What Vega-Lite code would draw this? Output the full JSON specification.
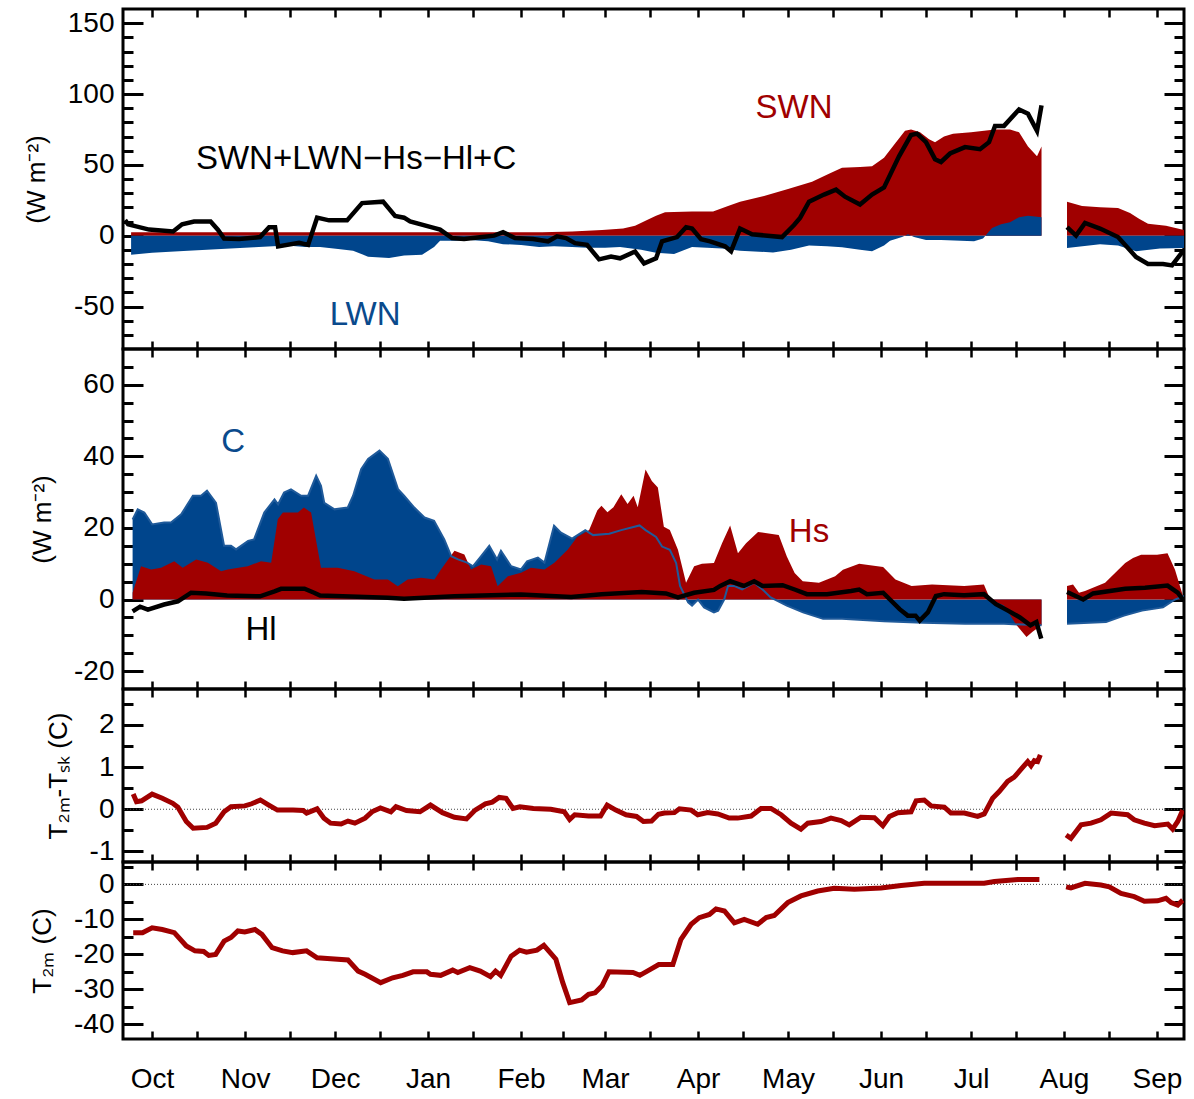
{
"$schema": "https://vega.github.io/schema/vega-lite/v6.json",
"padding": {"left": 21, "top": 6, "right": 12, "bottom": 4},
"spacing": 0,
"bounds": "flush",
"config": {
  "view": {"stroke": "black", "strokeWidth": 3},
  "axis": {"domain": false, "grid": false, "labelFont": "Liberation Sans", "titleFont": "Liberation Sans", "labelColor": "black", "titleColor": "black", "tickColor": "black", "labelFontSize": 28, "titleFontSize": 26, "titleFontWeight": "normal", "labelFlush": false, "labelOverlap": false, "labelBound": false},
  "text": {"font": "Liberation Sans"}
},
"datasets": {
  "swn": [
    {"g":1,"d":-7,"v":2.5},{"g":1,"d":130,"v":2.5},{"g":1,"d":140,"v":3},{"g":1,"d":150,"v":4},{"g":1,"d":157,"v":5},{"g":1,"d":161,"v":7},{"g":1,"d":165,"v":11},{"g":1,"d":168,"v":14},{"g":1,"d":171,"v":16.5},{"g":1,"d":180,"v":17},{"g":1,"d":187,"v":17},{"g":1,"d":192,"v":21},{"g":1,"d":196,"v":24},{"g":1,"d":204,"v":28},{"g":1,"d":212,"v":33},{"g":1,"d":220,"v":38},{"g":1,"d":226,"v":44},{"g":1,"d":230,"v":48},{"g":1,"d":236,"v":48.5},{"g":1,"d":240,"v":49},{"g":1,"d":244,"v":55},{"g":1,"d":248,"v":66},{"g":1,"d":251,"v":74},{"g":1,"d":253,"v":75},{"g":1,"d":256,"v":73},{"g":1,"d":259,"v":68},{"g":1,"d":261,"v":66},{"g":1,"d":264,"v":70},{"g":1,"d":267,"v":72},{"g":1,"d":273,"v":73},{"g":1,"d":281,"v":75},{"g":1,"d":286,"v":75},{"g":1,"d":289,"v":73},{"g":1,"d":292,"v":63},{"g":1,"d":295,"v":56},{"g":1,"d":296.5,"v":63},
    {"g":2,"d":305,"v":24},{"g":2,"d":310,"v":21},{"g":2,"d":316,"v":20},{"g":2,"d":322,"v":19.5},{"g":2,"d":326,"v":16},{"g":2,"d":329,"v":12},{"g":2,"d":332,"v":8.5},{"g":2,"d":338,"v":7},{"g":2,"d":344,"v":4}
  ],
  "lwn": [
    {"g":1,"d":-7,"v":-13.4},{"g":1,"d":0,"v":-12},{"g":1,"d":12,"v":-10.6},{"g":1,"d":23,"v":-9.4},{"g":1,"d":34,"v":-8.2},{"g":1,"d":45,"v":-7},{"g":1,"d":51,"v":-8},{"g":1,"d":56,"v":-8},{"g":1,"d":62,"v":-9.4},{"g":1,"d":67,"v":-10.6},{"g":1,"d":72,"v":-14.8},{"g":1,"d":79,"v":-15.8},{"g":1,"d":84,"v":-14},{"g":1,"d":90,"v":-13.4},{"g":1,"d":94,"v":-8},{"g":1,"d":96,"v":-3.5},{"g":1,"d":101,"v":-3.5},{"g":1,"d":106,"v":-3},{"g":1,"d":112,"v":-4},{"g":1,"d":117,"v":-6},{"g":1,"d":123,"v":-6.5},{"g":1,"d":129,"v":-8},{"g":1,"d":134,"v":-7.5},{"g":1,"d":140,"v":-8},{"g":1,"d":145,"v":-8.5},{"g":1,"d":151,"v":-8.5},{"g":1,"d":156,"v":-8},{"g":1,"d":163,"v":-10},{"g":1,"d":168,"v":-12},{"g":1,"d":174,"v":-13},{"g":1,"d":180,"v":-8},{"g":1,"d":190,"v":-9},{"g":1,"d":196,"v":-10.6},{"g":1,"d":207,"v":-11.8},{"g":1,"d":213,"v":-10},{"g":1,"d":219,"v":-7},{"g":1,"d":225,"v":-7.5},{"g":1,"d":230,"v":-8.2},{"g":1,"d":236,"v":-10},{"g":1,"d":240,"v":-11},{"g":1,"d":244,"v":-7},{"g":1,"d":246,"v":-3.5},{"g":1,"d":250,"v":-1},{"g":1,"d":252,"v":1},{"g":1,"d":254,"v":-1},{"g":1,"d":258,"v":-3},{"g":1,"d":263,"v":-3},{"g":1,"d":274,"v":-4},{"g":1,"d":277,"v":-2},{"g":1,"d":280,"v":5.5},{"g":1,"d":283,"v":8},{"g":1,"d":286,"v":9.5},{"g":1,"d":289,"v":13},{"g":1,"d":292,"v":14},{"g":1,"d":296.5,"v":13},
    {"g":2,"d":305,"v":-8.7},{"g":2,"d":316,"v":-6},{"g":2,"d":322,"v":-7},{"g":2,"d":328,"v":-11},{"g":2,"d":336,"v":-9},{"g":2,"d":344,"v":-8.7}
  ],
  "net": [
    {"g":1,"d":-9,"v":11},{"g":1,"d":-8,"v":8},{"g":1,"d":-1,"v":4.3},{"g":1,"d":7,"v":3},{"g":1,"d":10,"v":8},{"g":1,"d":14,"v":10},{"g":1,"d":19.5,"v":10},{"g":1,"d":22,"v":4},{"g":1,"d":24,"v":-2},{"g":1,"d":29,"v":-2.4},{"g":1,"d":36,"v":-1},{"g":1,"d":39,"v":6},{"g":1,"d":41,"v":6},{"g":1,"d":42,"v":-7.6},{"g":1,"d":49,"v":-5},{"g":1,"d":52,"v":-6.5},{"g":1,"d":55,"v":12.7},{"g":1,"d":59,"v":10.8},{"g":1,"d":65,"v":10.8},{"g":1,"d":70,"v":23},{"g":1,"d":77,"v":24},{"g":1,"d":81,"v":14},{"g":1,"d":84,"v":12.7},{"g":1,"d":86,"v":10},{"g":1,"d":93,"v":6},{"g":1,"d":96,"v":4.3},{"g":1,"d":100,"v":-1.7},{"g":1,"d":104,"v":-2.4},{"g":1,"d":110,"v":-1},{"g":1,"d":114,"v":0},{"g":1,"d":117,"v":2.4},{"g":1,"d":121,"v":-1.7},{"g":1,"d":127,"v":-2.4},{"g":1,"d":132,"v":-4},{"g":1,"d":135,"v":-0.5},{"g":1,"d":138,"v":-1.7},{"g":1,"d":141,"v":-5.3},{"g":1,"d":145,"v":-6.5},{"g":1,"d":149,"v":-16.7},{"g":1,"d":153,"v":-14.8},{"g":1,"d":156,"v":-16},{"g":1,"d":161,"v":-11.2},{"g":1,"d":164,"v":-19.6},{"g":1,"d":168,"v":-16},{"g":1,"d":170,"v":-4},{"g":1,"d":175,"v":-1},{"g":1,"d":178,"v":6},{"g":1,"d":180,"v":5},{"g":1,"d":183,"v":-2.5},{"g":1,"d":186,"v":-4},{"g":1,"d":191,"v":-7.5},{"g":1,"d":193,"v":-11},{"g":1,"d":196,"v":5},{"g":1,"d":200,"v":1},{"g":1,"d":210,"v":-1},{"g":1,"d":214,"v":7.5},{"g":1,"d":216,"v":12.5},{"g":1,"d":219,"v":24},{"g":1,"d":224,"v":29},{"g":1,"d":228,"v":32.5},{"g":1,"d":231,"v":27.5},{"g":1,"d":236,"v":22},{"g":1,"d":240,"v":29},{"g":1,"d":244,"v":34},{"g":1,"d":249,"v":56},{"g":1,"d":253,"v":71},{"g":1,"d":255,"v":72},{"g":1,"d":258,"v":66},{"g":1,"d":261,"v":54},{"g":1,"d":263,"v":52},{"g":1,"d":266,"v":58},{"g":1,"d":271,"v":62.5},{"g":1,"d":276,"v":61},{"g":1,"d":279,"v":66},{"g":1,"d":281,"v":77.5},{"g":1,"d":284,"v":77.5},{"g":1,"d":289,"v":89},{"g":1,"d":292,"v":86},{"g":1,"d":295,"v":74},{"g":1,"d":296.5,"v":92},
    {"g":2,"d":305,"v":6},{"g":2,"d":308,"v":0},{"g":2,"d":311,"v":9},{"g":2,"d":316,"v":5},{"g":2,"d":322,"v":-1},{"g":2,"d":328,"v":-15},{"g":2,"d":332,"v":-20},{"g":2,"d":337,"v":-20},{"g":2,"d":340,"v":-21},{"g":2,"d":344,"v":-10}
  ],
  "cflux": [
    {"g":1,"d":-6.5,"v":22.4},{"g":1,"d":-4.8,"v":25.2},{"g":1,"d":-2.6,"v":24.3},{"g":1,"d":0,"v":21},{"g":1,"d":4,"v":21.5},{"g":1,"d":6.3,"v":21.5},{"g":1,"d":9.7,"v":23.8},{"g":1,"d":13.6,"v":29},{"g":1,"d":16.3,"v":29},{"g":1,"d":18.3,"v":30.4},{"g":1,"d":21.3,"v":27},{"g":1,"d":24,"v":15},{"g":1,"d":26.3,"v":15},{"g":1,"d":28,"v":14},{"g":1,"d":32,"v":16.4},{"g":1,"d":34,"v":16.8},{"g":1,"d":37.4,"v":24.3},{"g":1,"d":40.8,"v":28},{"g":1,"d":42,"v":26.6},{"g":1,"d":44,"v":29.9},{"g":1,"d":46.3,"v":30.8},{"g":1,"d":49.7,"v":29},{"g":1,"d":52,"v":29},{"g":1,"d":54.7,"v":34.6},{"g":1,"d":56.3,"v":31.8},{"g":1,"d":57.4,"v":27},{"g":1,"d":60.8,"v":25.2},{"g":1,"d":65.2,"v":25.7},{"g":1,"d":67,"v":29},{"g":1,"d":69.7,"v":36.4},{"g":1,"d":72,"v":39.3},{"g":1,"d":75.8,"v":41.6},{"g":1,"d":78.6,"v":39.3},{"g":1,"d":82,"v":30.8},{"g":1,"d":84,"v":29},{"g":1,"d":87.4,"v":25.7},{"g":1,"d":90.8,"v":22.9},{"g":1,"d":94,"v":22},{"g":1,"d":97.4,"v":16.8},{"g":1,"d":99.7,"v":12.1},{"g":1,"d":102,"v":11.2},{"g":1,"d":105,"v":10.3},{"g":1,"d":107,"v":9.3},{"g":1,"d":109.7,"v":12.1},{"g":1,"d":112.4,"v":15},{"g":1,"d":115,"v":11.2},{"g":1,"d":116.3,"v":13.6},{"g":1,"d":119.7,"v":9.3},{"g":1,"d":123,"v":8.4},{"g":1,"d":125,"v":10.7},{"g":1,"d":128.6,"v":11.7},{"g":1,"d":130.8,"v":10.3},{"g":1,"d":134,"v":20.6},{"g":1,"d":136.3,"v":18.7},{"g":1,"d":140,"v":17},{"g":1,"d":144.4,"v":19.4},{"g":1,"d":147,"v":18},{"g":1,"d":152.4,"v":18.4},{"g":1,"d":156.4,"v":19.4},{"g":1,"d":162.5,"v":20.7},{"g":1,"d":164.5,"v":19.4},{"g":1,"d":168,"v":17.5},{"g":1,"d":170,"v":14.8},{"g":1,"d":172.6,"v":13.9},{"g":1,"d":174.7,"v":10.2},{"g":1,"d":176,"v":3.8},{"g":1,"d":178.7,"v":-0.8},{"g":1,"d":180,"v":-1.7},{"g":1,"d":182,"v":0},{"g":1,"d":184,"v":-2.2},{"g":1,"d":187.3,"v":-3.6},{"g":1,"d":188.7,"v":-3.1},{"g":1,"d":190.7,"v":0},{"g":1,"d":192,"v":3.8},{"g":1,"d":194,"v":3.8},{"g":1,"d":196.7,"v":2.8},{"g":1,"d":200.7,"v":4.7},{"g":1,"d":203.5,"v":2.8},{"g":1,"d":206.2,"v":0.6},{"g":1,"d":211.6,"v":-1.7},{"g":1,"d":217,"v":-3.6},{"g":1,"d":223.7,"v":-5.4},{"g":1,"d":230,"v":-5.4},{"g":1,"d":244,"v":-6.1},{"g":1,"d":257,"v":-6.5},{"g":1,"d":271,"v":-6.8},{"g":1,"d":284,"v":-6.8},{"g":1,"d":296.5,"v":-7.2},
    {"g":2,"d":305,"v":-6.8},{"g":2,"d":318,"v":-6.3},{"g":2,"d":324,"v":-4.5},{"g":2,"d":330,"v":-3.1},{"g":2,"d":337,"v":-2.2},{"g":2,"d":341,"v":0},{"g":2,"d":344,"v":1}
  ],
  "hs": [
    {"g":1,"d":-6.5,"v":1.9},{"g":1,"d":-3.7,"v":9.3},{"g":1,"d":-0.3,"v":8.4},{"g":1,"d":3,"v":8.9},{"g":1,"d":7.4,"v":10.7},{"g":1,"d":10.2,"v":8.9},{"g":1,"d":14.7,"v":11.2},{"g":1,"d":18.6,"v":10.3},{"g":1,"d":23,"v":7.9},{"g":1,"d":25.2,"v":8.4},{"g":1,"d":31.9,"v":9.3},{"g":1,"d":36.3,"v":10.7},{"g":1,"d":39.7,"v":10.3},{"g":1,"d":41.9,"v":22.4},{"g":1,"d":43.6,"v":24.3},{"g":1,"d":48.6,"v":24.3},{"g":1,"d":50.6,"v":25.7},{"g":1,"d":53,"v":24.3},{"g":1,"d":56.3,"v":8.9},{"g":1,"d":61.9,"v":8.9},{"g":1,"d":67.4,"v":7.9},{"g":1,"d":74.1,"v":5.6},{"g":1,"d":78.6,"v":5.6},{"g":1,"d":81.9,"v":3.7},{"g":1,"d":85.2,"v":5.6},{"g":1,"d":89.7,"v":6.1},{"g":1,"d":94.1,"v":5.6},{"g":1,"d":96.3,"v":8.4},{"g":1,"d":100.8,"v":13.6},{"g":1,"d":104.1,"v":12.6},{"g":1,"d":106.3,"v":8.4},{"g":1,"d":109.7,"v":9.8},{"g":1,"d":113,"v":9.3},{"g":1,"d":115.2,"v":3.7},{"g":1,"d":118.6,"v":6.5},{"g":1,"d":123,"v":7.5},{"g":1,"d":126.3,"v":8.9},{"g":1,"d":130.8,"v":8.4},{"g":1,"d":134.1,"v":10.3},{"g":1,"d":138.6,"v":14},{"g":1,"d":141.7,"v":17.5},{"g":1,"d":145.7,"v":19.4},{"g":1,"d":148.4,"v":24.9},{"g":1,"d":149.8,"v":26.2},{"g":1,"d":151.8,"v":24.4},{"g":1,"d":153.8,"v":25.8},{"g":1,"d":156.4,"v":29.4},{"g":1,"d":158.5,"v":26.7},{"g":1,"d":160.5,"v":29},{"g":1,"d":161.9,"v":25.8},{"g":1,"d":164.5,"v":36.3},{"g":1,"d":166.6,"v":33.1},{"g":1,"d":168.6,"v":31.3},{"g":1,"d":170.6,"v":20.3},{"g":1,"d":172.6,"v":19.4},{"g":1,"d":175.3,"v":13.9},{"g":1,"d":178,"v":4.7},{"g":1,"d":180.7,"v":9.3},{"g":1,"d":183.3,"v":10},{"g":1,"d":187.3,"v":10.2},{"g":1,"d":190,"v":15.7},{"g":1,"d":192.7,"v":20.7},{"g":1,"d":195.3,"v":12.9},{"g":1,"d":198,"v":15.7},{"g":1,"d":202,"v":18.9},{"g":1,"d":208.9,"v":18},{"g":1,"d":211.6,"v":12},{"g":1,"d":214.2,"v":7.4},{"g":1,"d":216.9,"v":5.1},{"g":1,"d":222.3,"v":4.7},{"g":1,"d":227.7,"v":6.5},{"g":1,"d":230.3,"v":8.3},{"g":1,"d":235.7,"v":10},{"g":1,"d":243.7,"v":9.1},{"g":1,"d":247.8,"v":5.6},{"g":1,"d":253.2,"v":3.8},{"g":1,"d":260,"v":4.2},{"g":1,"d":270.7,"v":3.8},{"g":1,"d":277.3,"v":4.2},{"g":1,"d":279.4,"v":0},{"g":1,"d":284,"v":-1.7},{"g":1,"d":288,"v":-7},{"g":1,"d":291.5,"v":-10.5},{"g":1,"d":293.5,"v":-9},{"g":1,"d":296.5,"v":-7.2},
    {"g":2,"d":305,"v":3.8},{"g":2,"d":307,"v":4.2},{"g":2,"d":309,"v":1.9},{"g":2,"d":311,"v":2.4},{"g":2,"d":317.7,"v":4.7},{"g":2,"d":324.4,"v":10.2},{"g":2,"d":327,"v":11.6},{"g":2,"d":329.7,"v":12.5},{"g":2,"d":335,"v":12.5},{"g":2,"d":338.5,"v":12.9},{"g":2,"d":341,"v":8.3},{"g":2,"d":344,"v":0}
  ],
  "hl": [
    {"g":1,"d":-6.5,"v":-3.3},{"g":1,"d":-4,"v":-2},{"g":1,"d":-1.4,"v":-2.8},{"g":1,"d":4,"v":-1.4},{"g":1,"d":8.6,"v":-0.5},{"g":1,"d":13,"v":1.9},{"g":1,"d":18,"v":1.7},{"g":1,"d":25,"v":1.1},{"g":1,"d":36,"v":0.9},{"g":1,"d":40.8,"v":2.3},{"g":1,"d":43,"v":3},{"g":1,"d":50.8,"v":3},{"g":1,"d":54,"v":1.9},{"g":1,"d":56,"v":1.1},{"g":1,"d":78.6,"v":0.5},{"g":1,"d":84,"v":0.2},{"g":1,"d":100.8,"v":0.9},{"g":1,"d":123,"v":1.4},{"g":1,"d":139.7,"v":0.7},{"g":1,"d":149.8,"v":1.5},{"g":1,"d":163.2,"v":2.1},{"g":1,"d":171.3,"v":1.7},{"g":1,"d":175.3,"v":0.6},{"g":1,"d":180.7,"v":1.9},{"g":1,"d":187.3,"v":2.7},{"g":1,"d":189.4,"v":3.8},{"g":1,"d":192.7,"v":5.1},{"g":1,"d":197.3,"v":3.8},{"g":1,"d":200.7,"v":5.1},{"g":1,"d":203.5,"v":3.8},{"g":1,"d":210.2,"v":4},{"g":1,"d":214.2,"v":2.8},{"g":1,"d":218.3,"v":1.5},{"g":1,"d":225,"v":1.5},{"g":1,"d":233,"v":2.4},{"g":1,"d":235.7,"v":2.8},{"g":1,"d":238.3,"v":1.5},{"g":1,"d":243.7,"v":1.9},{"g":1,"d":249.2,"v":-2.7},{"g":1,"d":251.9,"v":-4.5},{"g":1,"d":254.5,"v":-4.5},{"g":1,"d":255.9,"v":-5.9},{"g":1,"d":258.6,"v":-3.6},{"g":1,"d":261.3,"v":1},{"g":1,"d":264,"v":1.5},{"g":1,"d":270.7,"v":1.2},{"g":1,"d":277.3,"v":1.5},{"g":1,"d":281.3,"v":-1.3},{"g":1,"d":285.3,"v":-3.1},{"g":1,"d":289.3,"v":-5},{"g":1,"d":292.8,"v":-7.2},{"g":1,"d":294.8,"v":-6.3},{"g":1,"d":296.4,"v":-10.9},
    {"g":2,"d":305,"v":2.1},{"g":2,"d":310.4,"v":0},{"g":2,"d":313.7,"v":1.7},{"g":2,"d":324.4,"v":3},{"g":2,"d":331,"v":3.3},{"g":2,"d":338.5,"v":3.9},{"g":2,"d":341.9,"v":1.9},{"g":2,"d":344,"v":-0.4}
  ],
  "dt": [
    {"g":1,"d":-6.3,"v":0.36},{"g":1,"d":-5.2,"v":0.18},{"g":1,"d":-3.5,"v":0.2},{"g":1,"d":0,"v":0.36},{"g":1,"d":3.4,"v":0.26},{"g":1,"d":6.9,"v":0.14},{"g":1,"d":8.6,"v":0.05},{"g":1,"d":11.4,"v":-0.29},{"g":1,"d":13.7,"v":-0.45},{"g":1,"d":18.3,"v":-0.43},{"g":1,"d":21.2,"v":-0.33},{"g":1,"d":24,"v":-0.06},{"g":1,"d":26.3,"v":0.06},{"g":1,"d":30.9,"v":0.08},{"g":1,"d":33.2,"v":0.13},{"g":1,"d":36.1,"v":0.22},{"g":1,"d":38.9,"v":0.1},{"g":1,"d":41.8,"v":-0.02},{"g":1,"d":47,"v":-0.02},{"g":1,"d":50.4,"v":-0.03},{"g":1,"d":51.5,"v":-0.09},{"g":1,"d":55,"v":0.01},{"g":1,"d":57.3,"v":-0.21},{"g":1,"d":59.5,"v":-0.33},{"g":1,"d":63,"v":-0.35},{"g":1,"d":65.3,"v":-0.28},{"g":1,"d":67.6,"v":-0.33},{"g":1,"d":71,"v":-0.21},{"g":1,"d":73.3,"v":-0.06},{"g":1,"d":76.1,"v":0.03},{"g":1,"d":79.6,"v":-0.06},{"g":1,"d":81.3,"v":0.06},{"g":1,"d":84.8,"v":-0.03},{"g":1,"d":89.3,"v":-0.06},{"g":1,"d":92.8,"v":0.1},{"g":1,"d":96.8,"v":-0.08},{"g":1,"d":100.8,"v":-0.19},{"g":1,"d":104.8,"v":-0.23},{"g":1,"d":107.7,"v":-0.02},{"g":1,"d":111.1,"v":0.13},{"g":1,"d":113.4,"v":0.17},{"g":1,"d":115.7,"v":0.28},{"g":1,"d":118,"v":0.26},{"g":1,"d":120.3,"v":0.02},{"g":1,"d":122.6,"v":0.06},{"g":1,"d":127.1,"v":0.02},{"g":1,"d":132.9,"v":0},{"g":1,"d":137.4,"v":-0.06},{"g":1,"d":139.2,"v":-0.24},{"g":1,"d":140.9,"v":-0.13},{"g":1,"d":145.5,"v":-0.16},{"g":1,"d":149.5,"v":-0.16},{"g":1,"d":151.7,"v":0.1},{"g":1,"d":154.6,"v":-0.02},{"g":1,"d":158,"v":-0.13},{"g":1,"d":161.5,"v":-0.17},{"g":1,"d":163.8,"v":-0.29},{"g":1,"d":166.5,"v":-0.28},{"g":1,"d":168.8,"v":-0.12},{"g":1,"d":170.8,"v":-0.09},{"g":1,"d":174.1,"v":-0.08},{"g":1,"d":175.8,"v":0.01},{"g":1,"d":179.7,"v":-0.02},{"g":1,"d":181.9,"v":-0.13},{"g":1,"d":185.2,"v":-0.08},{"g":1,"d":188.6,"v":-0.11},{"g":1,"d":192.4,"v":-0.21},{"g":1,"d":195.2,"v":-0.21},{"g":1,"d":199.7,"v":-0.16},{"g":1,"d":203,"v":0.02},{"g":1,"d":206.3,"v":0.02},{"g":1,"d":209.7,"v":-0.13},{"g":1,"d":213,"v":-0.33},{"g":1,"d":216.3,"v":-0.47},{"g":1,"d":218.6,"v":-0.33},{"g":1,"d":223,"v":-0.29},{"g":1,"d":226.3,"v":-0.21},{"g":1,"d":229.7,"v":-0.27},{"g":1,"d":232.4,"v":-0.37},{"g":1,"d":236.3,"v":-0.19},{"g":1,"d":240.8,"v":-0.2},{"g":1,"d":243.6,"v":-0.39},{"g":1,"d":245.8,"v":-0.17},{"g":1,"d":248.6,"v":-0.08},{"g":1,"d":253,"v":-0.06},{"g":1,"d":254.7,"v":0.2},{"g":1,"d":257.4,"v":0.22},{"g":1,"d":259.7,"v":0.08},{"g":1,"d":264.1,"v":0.05},{"g":1,"d":266.3,"v":-0.09},{"g":1,"d":270.8,"v":-0.09},{"g":1,"d":275.2,"v":-0.17},{"g":1,"d":277.4,"v":-0.11},{"g":1,"d":280.2,"v":0.26},{"g":1,"d":282.4,"v":0.42},{"g":1,"d":285.2,"v":0.66},{"g":1,"d":287.4,"v":0.76},{"g":1,"d":289.7,"v":0.95},{"g":1,"d":291.9,"v":1.13},{"g":1,"d":293,"v":1.03},{"g":1,"d":294.1,"v":1.15},{"g":1,"d":295.2,"v":1.13},{"g":1,"d":296.1,"v":1.29},
    {"g":2,"d":304.7,"v":-0.61},{"g":2,"d":306.3,"v":-0.69},{"g":2,"d":309.7,"v":-0.37},{"g":2,"d":313,"v":-0.33},{"g":2,"d":316.3,"v":-0.25},{"g":2,"d":319.7,"v":-0.09},{"g":2,"d":325.2,"v":-0.13},{"g":2,"d":327.4,"v":-0.25},{"g":2,"d":330.8,"v":-0.33},{"g":2,"d":334.2,"v":-0.39},{"g":2,"d":338.6,"v":-0.35},{"g":2,"d":340.2,"v":-0.47},{"g":2,"d":341.9,"v":-0.29},{"g":2,"d":343.6,"v":-0.02}
  ],
  "t2m": [
    {"g":1,"d":-6.3,"v":-13.8},{"g":1,"d":-3.2,"v":-13.8},{"g":1,"d":0,"v":-12.4},{"g":1,"d":3.4,"v":-12.9},{"g":1,"d":7.4,"v":-13.8},{"g":1,"d":11.4,"v":-17.6},{"g":1,"d":14.3,"v":-19},{"g":1,"d":17.2,"v":-19.2},{"g":1,"d":18.9,"v":-20.3},{"g":1,"d":21.2,"v":-20},{"g":1,"d":24,"v":-16.2},{"g":1,"d":26.3,"v":-15.2},{"g":1,"d":28.6,"v":-13.3},{"g":1,"d":30.9,"v":-13.6},{"g":1,"d":34.3,"v":-12.9},{"g":1,"d":36.6,"v":-14.3},{"g":1,"d":40,"v":-18.1},{"g":1,"d":43.5,"v":-19},{"g":1,"d":46.9,"v":-19.5},{"g":1,"d":51.5,"v":-19},{"g":1,"d":55,"v":-21},{"g":1,"d":58.4,"v":-21.2},{"g":1,"d":65.3,"v":-21.6},{"g":1,"d":68.7,"v":-24.8},{"g":1,"d":71,"v":-25.7},{"g":1,"d":76.2,"v":-28.1},{"g":1,"d":80.2,"v":-26.7},{"g":1,"d":83.6,"v":-26},{"g":1,"d":87,"v":-25},{"g":1,"d":91.6,"v":-25},{"g":1,"d":92.8,"v":-25.7},{"g":1,"d":96.2,"v":-26},{"g":1,"d":100.2,"v":-24.5},{"g":1,"d":101.9,"v":-25.2},{"g":1,"d":105.9,"v":-23.8},{"g":1,"d":109.4,"v":-24.8},{"g":1,"d":112.8,"v":-26.4},{"g":1,"d":114.5,"v":-24.8},{"g":1,"d":116.2,"v":-26},{"g":1,"d":119.7,"v":-20.5},{"g":1,"d":122.5,"v":-18.8},{"g":1,"d":124.8,"v":-19.4},{"g":1,"d":128.3,"v":-18.8},{"g":1,"d":130.6,"v":-17.4},{"g":1,"d":134.6,"v":-21.4},{"g":1,"d":136.9,"v":-28.1},{"g":1,"d":139.2,"v":-33.8},{"g":1,"d":143.2,"v":-33},{"g":1,"d":145.5,"v":-31.4},{"g":1,"d":147.7,"v":-31},{"g":1,"d":150,"v":-29},{"g":1,"d":152.3,"v":-25},{"g":1,"d":160.3,"v":-25.2},{"g":1,"d":162.6,"v":-26},{"g":1,"d":166.1,"v":-24.3},{"g":1,"d":168.9,"v":-22.9},{"g":1,"d":173.6,"v":-22.9},{"g":1,"d":176.3,"v":-15.7},{"g":1,"d":179.7,"v":-11.4},{"g":1,"d":182.4,"v":-9.5},{"g":1,"d":185.8,"v":-8.6},{"g":1,"d":188,"v":-7},{"g":1,"d":190.8,"v":-7.6},{"g":1,"d":194.1,"v":-11},{"g":1,"d":197.4,"v":-10},{"g":1,"d":201.9,"v":-11.4},{"g":1,"d":204.7,"v":-9.5},{"g":1,"d":207.4,"v":-8.9},{"g":1,"d":211.9,"v":-5.2},{"g":1,"d":216.3,"v":-3.3},{"g":1,"d":221.9,"v":-1.9},{"g":1,"d":227.4,"v":-1.1},{"g":1,"d":234.1,"v":-1.4},{"g":1,"d":243,"v":-1},{"g":1,"d":249.7,"v":-0.3},{"g":1,"d":257.4,"v":0.3},{"g":1,"d":277.4,"v":0.3},{"g":1,"d":280.8,"v":0.8},{"g":1,"d":288.6,"v":1.4},{"g":1,"d":295.8,"v":1.4},
    {"g":2,"d":304.7,"v":-0.7},{"g":2,"d":306.3,"v":-1},{"g":2,"d":311,"v":0.3},{"g":2,"d":316.3,"v":-0.2},{"g":2,"d":319.1,"v":-0.7},{"g":2,"d":323,"v":-2.6},{"g":2,"d":327.4,"v":-3.5},{"g":2,"d":330.8,"v":-4.8},{"g":2,"d":335.2,"v":-4.7},{"g":2,"d":338,"v":-4},{"g":2,"d":339.7,"v":-5.2},{"g":2,"d":341.9,"v":-5.9},{"g":2,"d":343.6,"v":-4.5}
  ],
  "lab1": [
    {"t":"SWN+LWN−Hs−Hl+C","s":"net","d":68,"v":54},
    {"t":"SWN","s":"SWN","d":214,"v":90},
    {"t":"LWN","s":"LWN","d":71,"v":-56}
  ],
  "lab2": [
    {"t":"C","s":"C","d":27,"v":44},
    {"t":"Hs","s":"Hs","d":219,"v":18.8},
    {"t":"Hl","s":"Hl","d":36.3,"v":-8.4}
  ]
},
"vconcat": [
  {
    "width": 1061, "height": 340,
    "resolve": {"axis": {"x": "independent", "y": "independent"}},
    "layer": [
      {"data": {"name": "swn"}, "mark": {"type": "area", "color": "#A00000", "clip": true},
       "encoding": {
         "x": {"field": "d", "type": "quantitative", "scale": {"domain": [-9.7, 344], "nice": false, "zero": false},
               "axis": {"orient": "bottom", "values": [0,15,31,46,61,76,92,107,123,137,151,166,182,197,212,227,243,258,273,288,304,319,335], "tickSize": -8, "tickWidth": 2.5, "labels": false, "title": null}},
         "y": {"field": "v", "type": "quantitative", "scale": {"domain": [-80, 160], "nice": false, "zero": false},
               "axis": {"orient": "left", "values": [-50,0,50,100,150], "ticks": false, "labelPadding": 9, "labelExpr": "'' + datum.value", "title": "(W m⁻²)", "titlePadding": 18}},
         "y2": {"datum": 0},
         "detail": {"field": "g"}
       }},
      {"data": {"name": "lwn"}, "mark": {"type": "area", "color": "#00458C", "clip": true},
       "encoding": {
         "x": {"field": "d", "type": "quantitative",
               "axis": {"orient": "top", "values": [0,15,31,46,61,76,92,107,123,137,151,166,182,197,212,227,243,258,273,288,304,319,335], "tickSize": -8, "tickWidth": 2.5, "labels": false, "title": null}},
         "y": {"field": "v", "type": "quantitative",
               "axis": {"orient": "left", "values": [-50,0,50,100,150], "tickSize": -20, "tickWidth": 3, "labels": false, "title": null}},
         "y2": {"datum": 0},
         "detail": {"field": "g"}
       }},
      {"data": {"name": "net"}, "mark": {"type": "line", "color": "black", "strokeWidth": 4.5, "clip": true},
       "encoding": {
         "x": {"field": "d", "type": "quantitative", "axis": null},
         "y": {"field": "v", "type": "quantitative",
               "axis": {"orient": "left", "values": [-70,-60,-50,-40,-30,-20,-10,0,10,20,30,40,50,60,70,80,90,100,110,120,130,140,150], "tickSize": -10, "tickWidth": 3, "labels": false, "title": null}},
         "detail": {"field": "g"}
       }},
      {"data": {"name": "lab1"}, "mark": {"type": "text", "fontSize": 33, "align": "center", "baseline": "middle"},
       "encoding": {
         "x": {"field": "d", "type": "quantitative", "axis": null},
         "y": {"field": "v", "type": "quantitative",
               "axis": {"orient": "right", "values": [-50,0,50,100,150], "tickSize": -20, "tickWidth": 3, "labels": false, "title": null}},
         "text": {"field": "t"},
         "color": {"field": "s", "type": "nominal", "scale": {"domain": ["net","SWN","LWN","C","Hs","Hl"], "range": ["#000000","#A00000","#0A4A8C","#0A4A8C","#A00000","#000000"]}, "legend": null}
       }},
      {"data": {"values": [{}]}, "mark": {"type": "rule", "opacity": 0},
       "encoding": {
         "y": {"datum": 0, "type": "quantitative",
               "axis": {"orient": "right", "values": [-70,-60,-50,-40,-30,-20,-10,0,10,20,30,40,50,60,70,80,90,100,110,120,130,140,150], "tickSize": -10, "tickWidth": 3, "labels": false, "title": null}}
       }}
    ]
  },
  {
    "width": 1061, "height": 340,
    "resolve": {"axis": {"x": "independent", "y": "independent"}},
    "layer": [
      {"data": {"name": "cflux"}, "mark": {"type": "area", "color": "#00458C", "clip": true},
       "encoding": {
         "x": {"field": "d", "type": "quantitative", "scale": {"domain": [-9.7, 344], "nice": false, "zero": false},
               "axis": {"orient": "bottom", "values": [0,15,31,46,61,76,92,107,123,137,151,166,182,197,212,227,243,258,273,288,304,319,335], "tickSize": -8, "tickWidth": 2.5, "labels": false, "title": null}},
         "y": {"field": "v", "type": "quantitative", "scale": {"domain": [-25, 70], "nice": false, "zero": false},
               "axis": {"orient": "left", "values": [-20,0,20,40,60], "ticks": false, "labelPadding": 9, "labelExpr": "'' + datum.value", "title": "(W m⁻²)", "titlePadding": 18}},
         "y2": {"datum": 0},
         "detail": {"field": "g"}
       }},
      {"data": {"name": "hs"}, "mark": {"type": "area", "color": "#A00000", "clip": true},
       "encoding": {
         "x": {"field": "d", "type": "quantitative",
               "axis": {"orient": "top", "values": [0,15,31,46,61,76,92,107,123,137,151,166,182,197,212,227,243,258,273,288,304,319,335], "tickSize": -8, "tickWidth": 2.5, "labels": false, "title": null}},
         "y": {"field": "v", "type": "quantitative",
               "axis": {"orient": "left", "values": [-20,0,20,40,60], "tickSize": -20, "tickWidth": 3, "labels": false, "title": null}},
         "y2": {"datum": 0},
         "detail": {"field": "g"}
       }},
      {"data": {"name": "cflux"}, "mark": {"type": "line", "color": "#1F5A9A", "strokeWidth": 2, "clip": true},
       "encoding": {
         "x": {"field": "d", "type": "quantitative", "axis": null},
         "y": {"field": "v", "type": "quantitative",
               "axis": {"orient": "left", "values": [-20,-15,-10,-5,0,5,10,15,20,25,30,35,40,45,50,55,60,65], "tickSize": -10, "tickWidth": 3, "labels": false, "title": null}},
         "detail": {"field": "g"}
       }},
      {"data": {"name": "hl"}, "mark": {"type": "line", "color": "black", "strokeWidth": 4.5, "clip": true},
       "encoding": {
         "x": {"field": "d", "type": "quantitative", "axis": null},
         "y": {"field": "v", "type": "quantitative",
               "axis": {"orient": "right", "values": [-20,0,20,40,60], "tickSize": -20, "tickWidth": 3, "labels": false, "title": null}},
         "detail": {"field": "g"}
       }},
      {"data": {"name": "lab2"}, "mark": {"type": "text", "fontSize": 33, "align": "center", "baseline": "middle"},
       "encoding": {
         "x": {"field": "d", "type": "quantitative", "axis": null},
         "y": {"field": "v", "type": "quantitative",
               "axis": {"orient": "right", "values": [-20,-15,-10,-5,0,5,10,15,20,25,30,35,40,45,50,55,60,65], "tickSize": -10, "tickWidth": 3, "labels": false, "title": null}},
         "text": {"field": "t"},
         "color": {"field": "s", "type": "nominal", "scale": {"domain": ["net","SWN","LWN","C","Hs","Hl"], "range": ["#000000","#A00000","#0A4A8C","#0A4A8C","#A00000","#000000"]}, "legend": null}
       }}
    ]
  },
  {
    "width": 1061, "height": 173,
    "resolve": {"axis": {"x": "independent", "y": "independent"}},
    "layer": [
      {"data": {"values": [{}]}, "mark": {"type": "rule", "color": "#444444", "strokeWidth": 1, "strokeDash": [1, 2]},
       "encoding": {
         "y": {"datum": 0, "type": "quantitative", "scale": {"domain": [-1.25, 2.85], "nice": false, "zero": false},
               "axis": {"orient": "left", "values": [-1,0,1,2], "ticks": false, "labelPadding": 9, "labelExpr": "'' + datum.value", "title": "T₂ₘ-Tₛₖ (C)", "titlePadding": 18}}
       }},
      {"data": {"name": "dt"}, "mark": {"type": "line", "color": "#A00000", "strokeWidth": 5, "clip": true},
       "encoding": {
         "x": {"field": "d", "type": "quantitative", "scale": {"domain": [-9.7, 344], "nice": false, "zero": false},
               "axis": {"orient": "bottom", "values": [0,15,31,46,61,76,92,107,123,137,151,166,182,197,212,227,243,258,273,288,304,319,335], "tickSize": -8, "tickWidth": 2.5, "labels": false, "title": null}},
         "y": {"field": "v", "type": "quantitative",
               "axis": {"orient": "left", "values": [-1,0,1,2], "tickSize": -20, "tickWidth": 3, "labels": false, "title": null}},
         "detail": {"field": "g"}
       }},
      {"data": {"name": "dt"}, "mark": {"type": "line", "opacity": 0},
       "encoding": {
         "x": {"field": "d", "type": "quantitative",
               "axis": {"orient": "top", "values": [0,15,31,46,61,76,92,107,123,137,151,166,182,197,212,227,243,258,273,288,304,319,335], "tickSize": -8, "tickWidth": 2.5, "labels": false, "title": null}},
         "y": {"field": "v", "type": "quantitative",
               "axis": {"orient": "left", "values": [-1,-0.5,0,0.5,1,1.5,2,2.5], "tickSize": -10, "tickWidth": 3, "labels": false, "title": null}},
         "detail": {"field": "g"}
       }},
      {"data": {"values": [{}]}, "mark": {"type": "rule", "opacity": 0},
       "encoding": {
         "y": {"datum": 0, "type": "quantitative",
               "axis": {"orient": "right", "values": [-1,0,1,2], "tickSize": -20, "tickWidth": 3, "labels": false, "title": null}}
       }},
      {"data": {"values": [{}]}, "mark": {"type": "rule", "opacity": 0},
       "encoding": {
         "y": {"datum": 0, "type": "quantitative",
               "axis": {"orient": "right", "values": [-1,-0.5,0,0.5,1,1.5,2,2.5], "tickSize": -10, "tickWidth": 3, "labels": false, "title": null}}
       }}
    ]
  },
  {
    "width": 1061, "height": 177,
    "resolve": {"axis": {"x": "independent", "y": "independent"}},
    "layer": [
      {"data": {"values": [{}]}, "mark": {"type": "rule", "color": "#444444", "strokeWidth": 1, "strokeDash": [1, 2]},
       "encoding": {
         "y": {"datum": 0, "type": "quantitative", "scale": {"domain": [-44.2, 6.4], "nice": false, "zero": false},
               "axis": {"orient": "left", "values": [-40,-30,-20,-10,0], "ticks": false, "labelPadding": 9, "labelExpr": "'' + datum.value", "title": "T₂ₘ (C)", "titlePadding": 18}}
       }},
      {"data": {"name": "t2m"}, "mark": {"type": "line", "color": "#A00000", "strokeWidth": 5, "clip": true},
       "encoding": {
         "x": {"field": "d", "type": "quantitative", "scale": {"domain": [-9.7, 344], "nice": false, "zero": false},
               "axis": {"orient": "bottom", "values": [0,31,61,92,123,151,182,212,243,273,304,335], "ticks": false, "labelPadding": 26, "labelExpr": "['Oct','Nov','Dec','Jan','Feb','Mar','Apr','May','Jun','Jul','Aug','Sep'][indexof([0,31,61,92,123,151,182,212,243,273,304,335], datum.value)]", "title": null}},
         "y": {"field": "v", "type": "quantitative",
               "axis": {"orient": "left", "values": [-40,-30,-20,-10,0], "tickSize": -20, "tickWidth": 3, "labels": false, "title": null}},
         "detail": {"field": "g"}
       }},
      {"data": {"name": "t2m"}, "mark": {"type": "line", "opacity": 0},
       "encoding": {
         "x": {"field": "d", "type": "quantitative",
               "axis": {"orient": "bottom", "values": [0,15,31,46,61,76,92,107,123,137,151,166,182,197,212,227,243,258,273,288,304,319,335], "tickSize": -8, "tickWidth": 2.5, "labels": false, "title": null}},
         "y": {"field": "v", "type": "quantitative",
               "axis": {"orient": "left", "values": [-40,-35,-30,-25,-20,-15,-10,-5,0,5], "tickSize": -10, "tickWidth": 3, "labels": false, "title": null}},
         "detail": {"field": "g"}
       }},
      {"data": {"name": "t2m"}, "mark": {"type": "line", "opacity": 0},
       "encoding": {
         "x": {"field": "d", "type": "quantitative",
               "axis": {"orient": "top", "values": [0,15,31,46,61,76,92,107,123,137,151,166,182,197,212,227,243,258,273,288,304,319,335], "tickSize": -8, "tickWidth": 2.5, "labels": false, "title": null}},
         "y": {"field": "v", "type": "quantitative",
               "axis": {"orient": "right", "values": [-40,-30,-20,-10,0], "tickSize": -20, "tickWidth": 3, "labels": false, "title": null}},
         "detail": {"field": "g"}
       }},
      {"data": {"values": [{}]}, "mark": {"type": "rule", "opacity": 0},
       "encoding": {
         "y": {"datum": 0, "type": "quantitative",
               "axis": {"orient": "right", "values": [-40,-35,-30,-25,-20,-15,-10,-5,0,5], "tickSize": -10, "tickWidth": 3, "labels": false, "title": null}}
       }}
    ]
  }
]
}
